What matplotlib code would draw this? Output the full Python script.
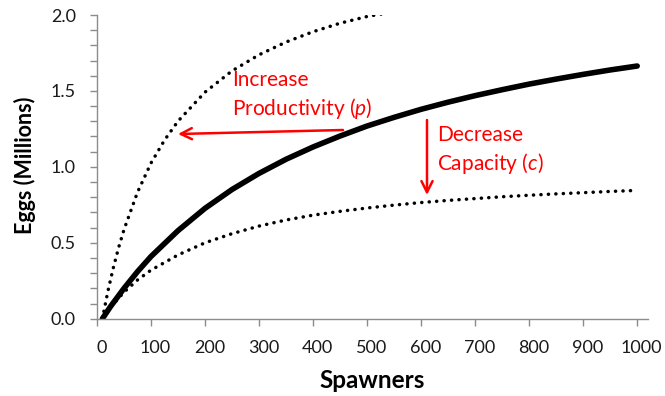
import matplotlib
matplotlib.use("Agg")
import matplotlib.pyplot as plt
from matplotlib.ticker import MultipleLocator
import matplotlib.transforms as mtransforms

plt.rcParams['font.family'] = ['Lato', 'DejaVu Sans']
plt.rcParams['mathtext.fontset'] = 'custom'
plt.rcParams['mathtext.rm'] = 'Lato'
plt.rcParams['mathtext.it'] = 'Lato:italic'

# Baseline curve (solid)
base_spawners = [10, 25, 50, 75, 100, 150, 200, 250, 300, 350, 400, 450, 500,
                 550, 600, 650, 700, 750, 800, 850, 900, 950, 1000]
base_eggs = [0.0, 0.08, 0.20, 0.31, 0.41, 0.58, 0.727, 0.851, 0.957, 1.05, 1.131,
             1.203, 1.269, 1.326, 1.379, 1.426, 1.469, 1.508, 1.545, 1.578,
             1.609, 1.638, 1.664]

# Increased productivity (upper dotted)
prod_spawners = [10, 20, 30, 40, 50, 75, 100, 125, 150, 200, 250, 300, 350,
                 400, 450, 500, 540]
prod_eggs = [0.0, 0.178, 0.332, 0.468, 0.587, 0.833, 1.025, 1.176, 1.301, 1.492,
             1.632, 1.738, 1.822, 1.89, 1.946, 1.99, 2.015]

# Decreased capacity (lower dotted)
cap_spawners = [10, 25, 50, 75, 100, 150, 200, 250, 300, 350, 400, 450, 500,
                550, 600, 650, 700, 750, 800, 850, 900, 950, 1000]
cap_eggs = [0.0, 0.075, 0.175, 0.255, 0.32, 0.42, 0.50, 0.56, 0.61, 0.65, 0.682,
            0.707, 0.729, 0.748, 0.765, 0.779, 0.791, 0.803, 0.813, 0.822, 0.830,
            0.838, 0.845]

x_ticks = [0, 100, 200, 300, 400, 500, 600, 700, 800, 900, 1000]
y_ticks = [0.0, 0.5, 1.0, 1.5, 2.0]

fig = plt.figure(figsize=(6.65, 3.96), dpi=100)
ax = fig.add_axes([97/665, (396-318.7)/396, (648-97)/665, (318.7-15)/396])

ax.plot(base_spawners, base_eggs, color='black', lw=4.0, solid_capstyle='round')
dot = (0, (0.05, 2.1))
ax.plot(prod_spawners, prod_eggs, color='black', lw=2.5, linestyle=dot,
        dash_capstyle='round')
ax.plot(cap_spawners, cap_eggs, color='black', lw=2.5, linestyle=dot,
        dash_capstyle='round')

ax.set_xlim(0, 1020)
ax.set_ylim(0, 2.0)
ax.set_xticks(x_ticks)
ax.set_yticks(y_ticks)
ax.set_yticklabels([f"{v:.1f}" for v in y_ticks])
ax.yaxis.set_minor_locator(MultipleLocator(0.1))

gray = '#8c8c8c'
for s in ['top', 'right']:
    ax.spines[s].set_visible(False)
for s in ['left', 'bottom']:
    ax.spines[s].set_color(gray)
    ax.spines[s].set_linewidth(1.0)

ax.tick_params(axis='both', which='both', direction='out', color=gray,
               length=5.3, width=1.0, labelsize=13, pad=10, labelcolor='#1a1a1a')

offset = mtransforms.ScaledTranslation(4.5/100, 0, fig.dpi_scale_trans)
for lbl in ax.get_xticklabels():
    lbl.set_transform(lbl.get_transform() + offset)

ax.set_xlabel('Spawners', fontsize=17.5, fontweight='bold')
ax.xaxis.set_label_coords((372-97)/551, -(381-318.7)/303.7)
ax.xaxis.label.set_va('center')
ax.set_ylabel('Eggs (Millions)', fontsize=15.5, fontweight='bold')
ax.yaxis.set_label_coords(-(97-25)/551, (318.7-165)/303.7)
ax.yaxis.label.set_va('center')

red = '#ff0000'
px2data_x = lambda px: (px - 97) / 551 * 1020
px2data_y = lambda py: (318.7 - py) / 303.7 * 2.0

ax.text(px2data_x(232), px2data_y(115), 'Increase\nProductivity ($\\it{p}$)',
        color=red, fontsize=15, ha='left', va='baseline', linespacing=1.3,
        multialignment='left')
ax.text(px2data_x(437), px2data_y(170), 'Decrease\nCapacity ($\\it{c}$)',
        color=red, fontsize=15, ha='left', va='baseline', linespacing=1.3,
        multialignment='left')

astyle = '->,head_length=0.8,head_width=0.4'
ax.annotate('', xy=(px2data_x(178), px2data_y(134)),
            xytext=(px2data_x(343), px2data_y(130)),
            arrowprops=dict(arrowstyle=astyle, color=red, lw=1.8,
                            shrinkA=0, shrinkB=0))
ax.annotate('', xy=(px2data_x(427), px2data_y(195)),
            xytext=(px2data_x(427), px2data_y(120)),
            arrowprops=dict(arrowstyle=astyle, color=red, lw=1.8,
                            shrinkA=0, shrinkB=0))

fig.savefig('out.png', dpi=100)
